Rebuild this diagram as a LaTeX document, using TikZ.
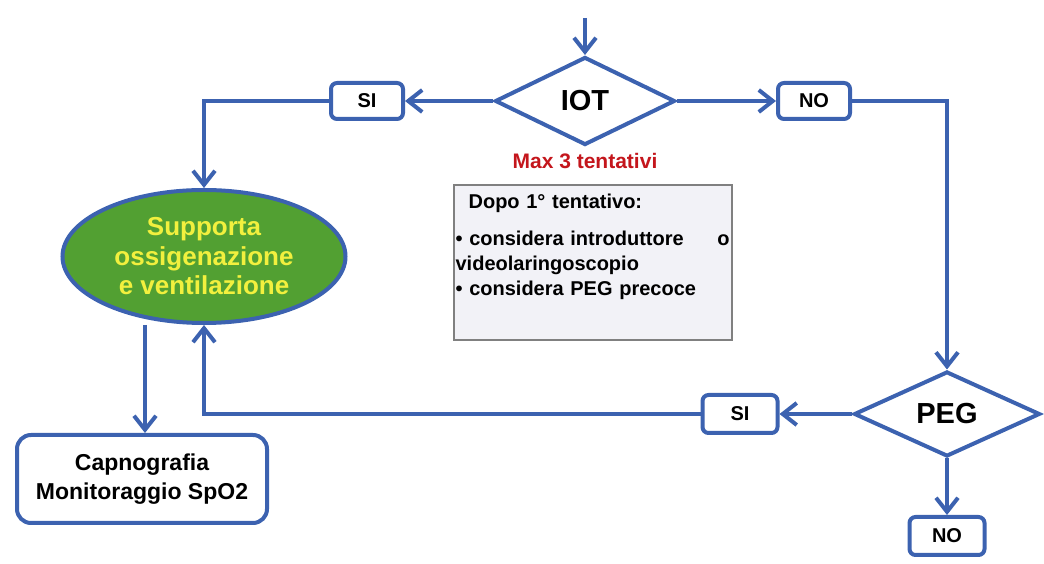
\documentclass[tikz,border=0pt]{standalone}
\usepackage{fontspec}
\setmainfont{Liberation Sans}
\usetikzlibrary{shapes.geometric,positioning,arrows.meta}

\definecolor{flowblue}{RGB}{60,98,176}
\definecolor{leafgreen}{RGB}{82,160,50}
\definecolor{lemon}{RGB}{242,240,62}
\definecolor{warnred}{RGB}{196,22,28}
\definecolor{notefill}{RGB}{242,242,247}

\tikzset{
  arr/.style={draw=flowblue, line width=4pt, -{Straight Barb[length=14pt,width=22pt]}},
  decision/.style={diamond, draw=flowblue, line width=4pt, fill=white, inner sep=0pt,
    font=\bfseries\fontsize{29}{32}\selectfont},
  answer/.style={rectangle, rounded corners=6pt, draw=flowblue, line width=4pt, fill=white,
    minimum width=72pt, minimum height=36pt, inner sep=0pt, font=\bfseries\fontsize{20}{22}\selectfont},
  action/.style={ellipse, draw=flowblue, line width=4pt, fill=leafgreen, text=lemon, align=center,
    minimum width=283pt, minimum height=133pt, inner sep=0pt, font=\bfseries\fontsize{26}{29.5}\selectfont},
  monitor/.style={rectangle, rounded corners=14pt, draw=flowblue, line width=4pt, fill=white, align=center,
    minimum width=250pt, minimum height=88pt, font=\bfseries\fontsize{23}{29}\selectfont},
  notebox/.style={rectangle, draw=gray, line width=1.2pt, fill=notefill,
    minimum width=278pt, minimum height=155pt},
  notetext/.style={inner sep=0pt, text width=274pt, align=left, font=\bfseries\fontsize{20}{25}\selectfont}
}

\begin{document}
\begin{tikzpicture}[x=1pt, y=1pt, on grid]
  \useasboundingbox (0,0) rectangle (1044,564);

  \coordinate (start) at (585,546);
  \node[decision, minimum width=180pt, minimum height=88pt] (iot) at (585,463) {IOT};
  \node[answer, left=218pt of iot] (siA) {SI};
  \node[answer, right=229pt of iot] (noA) {NO};
  \node[below=60pt of iot, text=warnred, font=\bfseries\fontsize{21}{24}\selectfont] (maxnote) {Max 3 tentativi};

  \node[notebox, below right=101.5pt and 8pt of maxnote] (note) {};
  \node[notetext, anchor=north west] (notetxt) at ([xshift=2pt,yshift=-9pt]note.north west)
    {\hspace*{13pt}Dopo 1° tentativo:\\[12pt]
     • considera introduttore\hfill o\\
     videolaringoscopio\\
     • considera PEG precoce};

  \node[action, below left=155.5pt and 163pt of siA] (sup) {Supporta\\ossigenazione\\e ventilazione};
  \node[monitor, below left=222.5pt and 62pt of sup] (capno) {Capnografia\\Monitoraggio SpO2};

  \node[decision, minimum width=186pt, minimum height=85pt, below right=313pt and 133pt of noA] (peg) {PEG};
  \node[answer, minimum width=75pt, minimum height=38pt, left=207pt of peg] (siB) {SI};
  \node[answer, minimum width=75pt, minimum height=38pt, below=122pt of peg] (noB) {NO};

  \draw[arr] (start) -- (iot);
  \draw[arr] (iot) -- (siA);
  \draw[arr] (siA) -| (sup);
  \draw[arr] (iot) -- (noA);
  \draw[arr] (noA) -| (peg);
  \draw[arr] (peg) -- (siB);
  \draw[arr] (siB) -| (sup);
  \draw[arr] ([xshift=3pt]sup.south -| capno.north) -- ([xshift=3pt]capno.north);
  \draw[arr] (peg) -- (noB);
\end{tikzpicture}
\end{document}
